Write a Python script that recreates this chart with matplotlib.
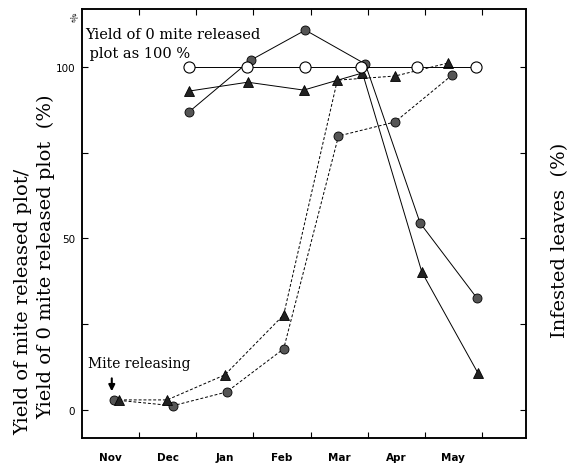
import numpy as np
import matplotlib.pyplot as plt

months = ['Nov', 'Dec', 'Jan', 'Feb', 'Mar', 'Apr', 'May']

# control plot (open circles), always 100 %
ctrl_x = [1.87, 2.88, 3.90, 4.89, 5.87, 6.90]
ctrl_y = [100, 100, 100, 100, 100, 100]

# yield ratio, solid lines
yc_x = [1.87, 2.95, 3.91, 4.96, 5.92, 6.91]
yc_y = [86.9, 102.0, 110.8, 100.9, 54.5, 32.7]
yt_x = [1.87, 2.90, 3.88, 4.91, 5.95, 6.93]
yt_y = [93.0, 95.6, 93.3, 98.3, 40.2, 10.8]

# infested leaves, dashed lines
ic_x = [0.56, 1.59, 2.53, 3.53, 4.49, 5.48, 6.48]
ic_y = [2.9, 1.2, 5.2, 17.8, 79.9, 84.0, 97.7]
it_x = [0.65, 1.49, 2.50, 3.53, 4.47, 5.48, 6.41]
it_y = [2.9, 2.9, 10.2, 27.7, 96.2, 97.4, 101.2]

serif = ['DejaVu Serif']

fig = plt.figure(figsize=(5.74, 4.64), dpi=100)
ax = fig.add_axes([0.143, 0.054, 0.773, 0.924])

ax.plot(yc_x, yc_y, '-', color='black', lw=0.7, marker='o', ms=6.5,
        mfc='#555555', mec='black', mew=0.6, zorder=3)
ax.plot(yt_x, yt_y, '-', color='black', lw=0.7, marker='^', ms=6.5,
        mfc='#222222', mec='black', mew=0.6, zorder=3)
ax.plot(ic_x, ic_y, '--', color='black', lw=0.7, dashes=(3, 2), marker='o', ms=6.5,
        mfc='#555555', mec='black', mew=0.6, zorder=3)
ax.plot(it_x, it_y, '--', color='black', lw=0.7, dashes=(3, 2), marker='^', ms=6.5,
        mfc='#222222', mec='black', mew=0.6, zorder=3)
ax.plot(ctrl_x, ctrl_y, '-', color='black', lw=0.7, marker='o', ms=8,
        mfc='white', mec='black', mew=0.8, zorder=4)

ax.set_xlim(0, 7.77)
ax.set_ylim(-8.2, 116.9)

ax.set_xticks(np.arange(1, 8))
ax.set_xticklabels([])
ax.set_xticks(np.arange(7) + 0.5, minor=True)
ax.set_xticklabels(months, minor=True, fontsize=7.5, fontweight='bold')
ax.tick_params(axis='x', which='minor', length=0, pad=10)
ax.tick_params(axis='x', which='major', direction='in', length=4, top=True, width=0.8)

ax.set_yticks([0, 25, 50, 75, 100])
ax.set_yticklabels(['0', '', '50', '', '100'], fontsize=7.5)
ax.tick_params(axis='y', direction='in', length=4, width=0.8, pad=5)

ax2 = ax.twinx()
ax2.set_ylim(ax.get_ylim())
ax2.set_yticks([0, 25, 50, 75, 100])
ax2.set_yticklabels([])
ax2.tick_params(axis='y', direction='in', length=4, width=0.8)

for a in (ax, ax2):
    for s in a.spines.values():
        s.set_linewidth(1.1)

ax.text(0.05, 111.8, 'Yield of 0 mite released\n plot as 100 %', fontsize=10.5,
        family=serif, va='top', ha='left', linespacing=1.45)
ax.text(0.1, 11.5, 'Mite releasing', fontsize=10, family=serif, ha='left', va='bottom')
ax.annotate('', xy=(0.52, 4.6), xytext=(0.52, 10.0),
            arrowprops=dict(arrowstyle='-|>', color='black', lw=1.5, mutation_scale=9))

fig.text(0.125, 0.96, '%', fontsize=6, rotation=-60, ha='center', va='center')

fig.text(0.041, 0.35, 'Yield of mite released plot/', rotation=90, fontsize=14,
         family=serif, ha='center', va='center')
fig.text(0.08, 0.446, 'Yield of 0 mite released plot  (%)', rotation=90, fontsize=14,
         family=serif, ha='center', va='center')
fig.text(0.975, 0.483, 'Infested leaves  (%)', rotation=90, fontsize=14,
         family=serif, ha='center', va='center')

fig.savefig('out.png', dpi=100)
